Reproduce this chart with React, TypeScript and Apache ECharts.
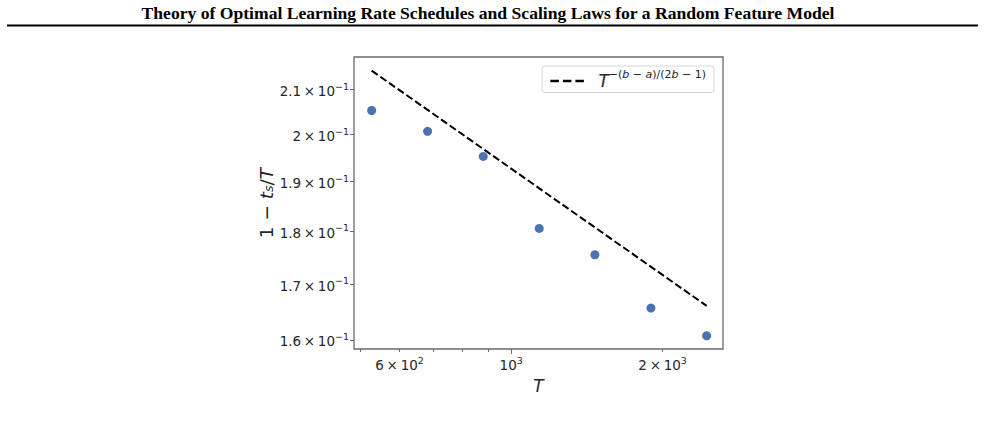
import React, { useEffect, useRef } from "react";
import * as echarts from "echarts";

const TITLE =
  "Theory of Optimal Learning Rate Schedules and Scaling Laws for a Random Feature Model";

// Training horizons T and the measured 1 - t_s/T at each of them
const horizons = [528, 682, 880, 1137, 1467, 1896, 2447];
const lossRatio = [0.2053, 0.2007, 0.1953, 0.1806, 0.1755, 0.1656, 0.1607];

// Power-law reference line T^{-(b-a)/(2b-1)}
const fitHorizons = [528, 2447];
const fitValues = [0.2144, 0.166];

// Axis extents (data units)
const xRange = [487, 2637];
const yRange = [0.1584, 0.2176];

// Tick positions and labels
const TIMES = "\u2009×\u2009";
const xLabelTicks = [600, 1000, 2000];
const xLabelTexts = [`{n|6${TIMES}10}{s|2}`, "{n|10}{s|3}", `{n|2${TIMES}10}{s|3}`];
const xMajorTicks = [1000];
const xMinorTicks = [500, 600, 700, 800, 900, 2000];
const yTicks = [0.16, 0.17, 0.18, 0.19, 0.2, 0.21];
const yTickTexts = [
  `{n|1.6${TIMES}10}{s|−1}`,
  `{n|1.7${TIMES}10}{s|−1}`,
  `{n|1.8${TIMES}10}{s|−1}`,
  `{n|1.9${TIMES}10}{s|−1}`,
  `{n|2${TIMES}10}{s|−1}`,
  `{n|2.1${TIMES}10}{s|−1}`,
];

const FONT = "DejaVu Sans";
const SPINE = "#6a6a6a";
const TEXT = "#262626";

const lg = (v: number) => Math.log10(v);
const logs = (a: number[]) => a.map(lg);

const pickLabel = (ticks: number[], texts: string[]) => (v: number) => {
  const i = ticks.findIndex((t) => Math.abs(lg(t) - v) < 1e-6);
  return i >= 0 ? texts[i] : "";
};

const tickRich = {
  n: { fontSize: 13.5, fontFamily: FONT, color: TEXT, lineHeight: 20 },
  s: { fontSize: 9.5, fontFamily: FONT, color: TEXT, lineHeight: 10, verticalAlign: "top" },
};

export default function App() {
  const ref = useRef<HTMLDivElement>(null);

  useEffect(() => {
    if (!ref.current) return;
    const chart = echarts.init(ref.current, null, { renderer: "svg" });

    const option = {
      animation: false,
      textStyle: { fontFamily: FONT },
      graphic: [
        {
          type: "text",
          x: 488,
          y: 13,
          style: {
            text: TITLE,
            fontSize: 17.6,
            fontWeight: "bold",
            fontFamily: "Liberation Serif",
            fill: "#000",
            align: "center",
            verticalAlign: "middle",
          },
        },
        {
          type: "line",
          shape: { x1: 7, y1: 25.5, x2: 978, y2: 25.5 },
          style: { stroke: "#000", lineWidth: 2 },
        },
      ],
      grid: {
        left: 354,
        top: 57,
        width: 369,
        height: 292,
        show: true,
        borderColor: SPINE,
        borderWidth: 1.3,
        backgroundColor: "transparent",
      },
      legend: {
        data: ["fit"],
        right: 271,
        top: 66,
        itemWidth: 34,
        itemHeight: 14,
        padding: [3, 8, 3, 7],
        backgroundColor: "#fff",
        borderColor: "#d6d6d6",
        borderWidth: 1,
        borderRadius: 3,
        itemStyle: { opacity: 0 },
        lineStyle: { color: "#000", width: 2.6, type: [8.5, 4] },
        formatter: () =>
          "{T|T}{s|−(}{si|b}{s| − }{si|a}{s|)/(2}{si|b}{s| − 1)}",
        textStyle: {
          rich: {
            T: {
              fontSize: 17,
              fontStyle: "italic",
              fontFamily: FONT,
              color: TEXT,
              lineHeight: 24,
              padding: [0, 0, 0, 9],
            },
            s: { fontSize: 11, fontFamily: FONT, color: TEXT, lineHeight: 10, verticalAlign: "top" },
            si: {
              fontSize: 11,
              fontStyle: "italic",
              fontFamily: FONT,
              color: TEXT,
              lineHeight: 10,
              verticalAlign: "top",
            },
          },
        },
      },
      xAxis: [
        {
          type: "value",
          min: lg(xRange[0]),
          max: lg(xRange[1]),
          position: "bottom",
          name: "{i|T}",
          nameLocation: "middle",
          nameGap: 28,
          nameTextStyle: {
            rich: {
              i: { fontSize: 17, fontStyle: "italic", fontFamily: FONT, color: TEXT },
            },
          },
          axisLine: { show: false },
          splitLine: { show: false },
          axisTick: {
            show: true,
            customValues: logs(xMajorTicks),
            length: 5,
            lineStyle: { color: SPINE, width: 1 },
          },
          axisLabel: {
            customValues: logs(xLabelTicks),
            formatter: pickLabel(xLabelTicks, xLabelTexts),
            margin: 6,
            rich: tickRich,
          },
        },
        {
          type: "value",
          min: lg(xRange[0]),
          max: lg(xRange[1]),
          position: "bottom",
          axisLine: { show: false },
          splitLine: { show: false },
          axisTick: {
            show: true,
            customValues: logs(xMinorTicks),
            length: 3,
            lineStyle: { color: SPINE, width: 1 },
          },
          axisLabel: { show: false },
        },
      ],
      yAxis: {
        type: "value",
        min: lg(yRange[0]),
        max: lg(yRange[1]),
        name: "{n|1 − }{i|t}{sub|s}{n|/}{i|T}",
        nameLocation: "middle",
        nameRotate: 90,
        nameGap: 4,
        nameTextStyle: {
          rich: {
            n: { fontSize: 18.5, fontFamily: FONT, color: TEXT, lineHeight: 17 },
            i: { fontSize: 18.5, fontStyle: "italic", fontFamily: FONT, color: TEXT, lineHeight: 17 },
            sub: {
              fontSize: 12.5,
              fontStyle: "italic",
              fontFamily: FONT,
              color: TEXT,
              lineHeight: 12,
              padding: [5, 0, 0, 0],
              verticalAlign: "bottom",
            },
          },
        },
        axisLine: { show: false },
        splitLine: { show: false },
        axisTick: {
          show: true,
          customValues: logs(yTicks),
          length: 4,
          lineStyle: { color: SPINE, width: 1 },
        },
        axisLabel: {
          customValues: logs(yTicks),
          formatter: pickLabel(yTicks, yTickTexts),
          margin: 5,
          padding: [3, 0, 0, 0],
          rich: tickRich,
        },
      },
      series: [
        {
          name: "measured",
          type: "scatter",
          xAxisIndex: 0,
          data: horizons.map((t, i) => [lg(t), lg(lossRatio[i])]),
          symbolSize: 9,
          itemStyle: { color: "#4c72b0", opacity: 1 },
          z: 3,
        },
        {
          name: "fit",
          type: "line",
          xAxisIndex: 0,
          data: fitHorizons.map((t, i) => [lg(t), lg(fitValues[i])]),
          symbol: "none",
          showSymbol: false,
          itemStyle: { color: "#000" },
          lineStyle: { color: "#000", width: 2, type: [7.4, 3.2] },
          z: 2,
        },
      ],
    };

    chart.setOption(option as any);
    return () => chart.dispose();
  }, []);

  return (
    <div
      ref={ref}
      style={{ position: "fixed", left: 0, top: 0, width: 985, height: 426, background: "#fff" }}
    />
  );
}
